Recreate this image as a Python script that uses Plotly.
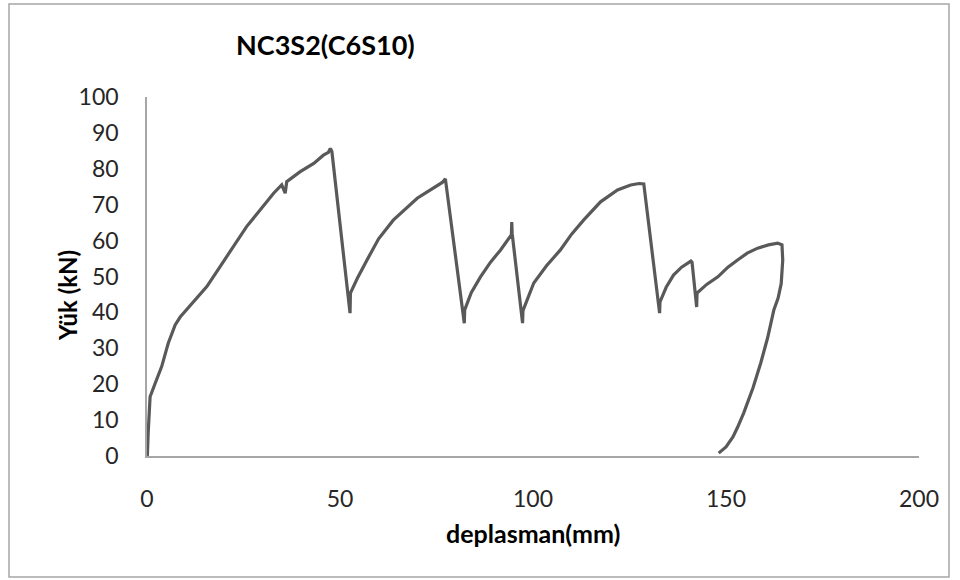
import plotly.graph_objects as go

# displacement (mm) and load (kN)
deplasman = [0.0, 0.1, 0.3, 0.6, 0.8, 2.1, 3.8, 5.5, 7.3, 8.6, 9.4, 11.6, 12.0, 15.5, 18.9, 22.4, 25.8, 29.3,
             32.8, 34.9, 35.8, 36.2, 39.7, 43.2, 45.7, 47.0, 47.5, 47.9,
             52.6, 52.7, 54.5, 57.0, 60.0, 63.8, 67.0, 70.0, 72.5, 75.2, 76.5, 77.3,
             82.2, 82.3, 84.0, 86.4, 89.0, 91.6, 94.4, 94.5, 94.6,
             97.3, 97.4, 100.2, 103.5, 107.1, 110.0, 113.1, 117.5, 121.9, 125.3, 127.5, 128.7,
             132.8, 132.9, 134.5, 136.4, 138.5, 140.9, 141.2,
             142.4, 142.5, 145.0, 147.9, 150.5, 153.0, 155.5, 158.2, 161.0, 163.4, 164.5, 164.7,
             164.3, 163.5, 162.4, 160.8, 159.0, 157.0, 154.6, 153.0, 151.8, 150.0, 148.1]
yuk = [0.0, 0.3, 6.3, 12.8, 16.5, 20.2, 24.9, 31.4, 36.5, 38.7, 39.7, 42.5, 42.7, 47.2, 52.7, 58.3, 63.9, 68.5,
       73.2, 75.5, 73.2, 76.4, 79.2, 81.5, 83.8, 84.6, 85.7, 84.8,
       39.8, 45.4, 49.5, 54.6, 60.5, 65.7, 69.0, 71.8, 73.5, 75.5, 76.2, 77.2,
       37.0, 40.7, 45.5, 49.9, 54.0, 57.4, 61.6, 65.2, 62.0,
       37.0, 40.5, 48.2, 53.0, 57.4, 61.8, 65.7, 70.8, 74.1, 75.5, 75.9, 75.8,
       39.8, 42.9, 47.0, 50.4, 52.6, 54.3, 54.0,
       41.5, 45.4, 47.8, 49.9, 52.6, 54.6, 56.5, 57.9, 58.8, 59.3, 58.8, 54.6,
       48.0, 44.0, 40.7, 33.0, 25.9, 19.0, 12.0, 8.0, 5.3, 2.5, 0.8]

x_ticks = [0, 50, 100, 150, 200]
y_ticks = [0, 10, 20, 30, 40, 50, 60, 70, 80, 90, 100]

FONT = "Lato"
fig = go.Figure()
fig.add_trace(go.Scatter(x=deplasman, y=yuk, mode="lines",
                         line=dict(color="#595959", width=3.2), hoverinfo="skip"))

L, R, T, B = 147, 41, 97, 124
W, H = 960 - L - R, 580 - T - B

def px(xp):
    return (xp - L) / W

def py(yp):
    return (580 - B - yp) / H

fig.update_layout(
    width=960, height=580,
    margin=dict(l=L, r=R, t=T, b=B),
    paper_bgcolor="white", plot_bgcolor="white",
    showlegend=False,
    font=dict(family=FONT, color="#262626"),
    xaxis=dict(range=[0, 200], tickvals=x_ticks, showgrid=False, zeroline=False,
               showline=True, linecolor="#a6a6a6", linewidth=1.5, ticks="",
               tickfont=dict(size=23, family=FONT, color="#262626"), ticklabelstandoff=22),
    yaxis=dict(range=[0, 100], tickvals=y_ticks, showgrid=False, zeroline=False,
               showline=True, linecolor="#a6a6a6", linewidth=1.5, ticks="",
               tickfont=dict(size=23, family=FONT, color="#262626"), ticklabelstandoff=22),
    shapes=[dict(type="rect", xref="paper", yref="paper",
                 x0=px(9), x1=px(949), y0=py(577), y1=py(4),
                 line=dict(color="#a6a6a6", width=1.5), fillcolor="rgba(0,0,0,0)", layer="below")],
    annotations=[
        dict(text="<b>NC3S2(C6S10)</b>", xref="paper", yref="paper", x=px(325), y=py(45),
             showarrow=False, xanchor="center", yanchor="middle",
             font=dict(size=27, family=FONT, color="#000000")),
        dict(text="<b>deplasman(mm)</b>", xref="paper", yref="paper", x=px(533), y=py(533),
             showarrow=False, xanchor="center", yanchor="middle",
             font=dict(size=25, family=FONT, color="#000000")),
        dict(text="<b>Yük (kN)</b>", xref="paper", yref="paper", x=px(67), y=py(296),
             showarrow=False, xanchor="center", yanchor="middle", textangle=-90,
             font=dict(size=24, family=FONT, color="#000000")),
    ],
)

fig.write_html("out.html")
